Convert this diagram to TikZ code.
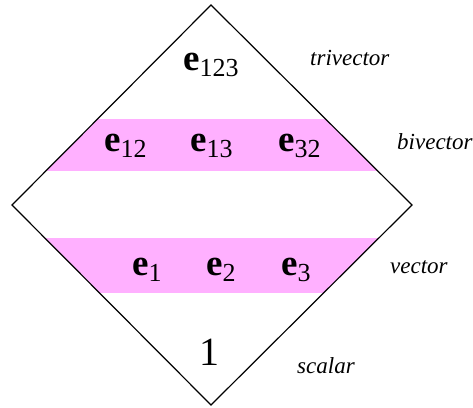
\documentclass[tikz,border=0pt]{standalone}
\usepackage{fontspec}
\setmainfont{Liberation Serif}
\definecolor{band}{RGB}{255,176,255}
\newcommand\eblade[1]{\textbf{e}\raisebox{-6pt}{\fontsize{26}{28}\selectfont\mdseries #1}}
\begin{document}
\begin{tikzpicture}[x=1pt,y=-1pt,
  basetext/.style={inner sep=0pt, anchor=base west},
  bladetext/.style={basetext, font=\fontsize{37}{40}\selectfont},
  gradetext/.style={basetext, font=\fontsize{23}{26}\selectfont\itshape}]
\useasboundingbox (0,0) rectangle (473,407);
\coordinate (T) at (211,5);
\coordinate (L) at (12,205);
\coordinate (R) at (412,205);
\coordinate (B) at (211,405);
\begin{scope}
  \clip (T) -- (R) -- (B) -- (L) -- cycle;
  \fill[band] (0,119) rectangle (473,171);
  \fill[band] (0,238) rectangle (473,293);
\end{scope}
\draw[line width=1.2pt, line join=miter] (T) -- (R) -- (B) -- (L) -- cycle;
\node[bladetext] (e123) at (183,70) {\eblade{123}};
\node[bladetext] (e12) at (104,151) {\eblade{12}};
\node[bladetext] (e13) at (190,151) {\eblade{13}};
\node[bladetext] (e32) at (278,151) {\eblade{32}};
\node[bladetext] (e1) at (132,275) {\eblade{1}};
\node[bladetext] (e2) at (206,275) {\eblade{2}};
\node[bladetext] (e3) at (281,275) {\eblade{3}};
\node[basetext, font=\fontsize{40}{44}\selectfont] (one) at (199,365) {1};
\node[gradetext] (tri) at (310,65) {trivector};
\node[gradetext] (bi) at (397,149) {bivector};
\node[gradetext] (vec) at (390,273) {vector};
\node[gradetext] (sca) at (297,373) {scalar};
\end{tikzpicture}
\end{document}
